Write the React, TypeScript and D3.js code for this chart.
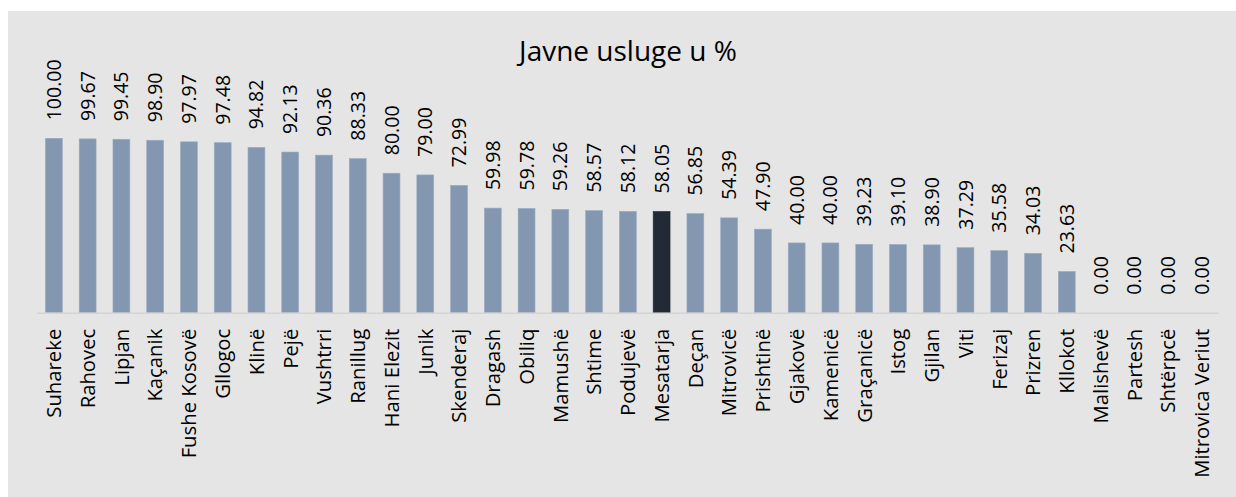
import React from "react";
import * as d3 from "d3";

const categories: string[] = [
  "Suhareke", "Rahovec", "Lipjan", "Kaçanik", "Fushe Kosovë", "Gllogoc", "Klinë", "Pejë",
  "Vushtrri", "Ranillug", "Hani Elezit", "Junik", "Skenderaj", "Dragash", "Obiliq", "Mamushë",
  "Shtime", "Podujevë", "Mesatarja", "Deçan", "Mitrovicë", "Prishtinë", "Gjakovë", "Kamenicë",
  "Graçanicë", "Istog", "Gjilan", "Viti", "Ferizaj", "Prizren", "Kllokot", "Malishevë",
  "Partesh", "Shtërpcë", "Mitrovica Veriut",
];

const values: number[] = [
  100.0, 99.67, 99.45, 98.9, 97.97, 97.48, 94.82, 92.13,
  90.36, 88.33, 80.0, 79.0, 72.99, 59.98, 59.78, 59.26,
  58.57, 58.12, 58.05, 56.85, 54.39, 47.9, 40.0, 40.0,
  39.23, 39.1, 38.9, 37.29, 35.58, 34.03, 23.63, 0.0,
  0.0, 0.0, 0.0,
];

const highlighted: string[] = ["Mesatarja"];
const title = "Javne usluge u %";

const W = 1236;
const H = 497;
const FONT = "'Open Sans', 'Noto Sans', sans-serif";

export default function App() {
  const x = d3
    .scaleBand<string>()
    .domain(categories)
    .range([37, 1218.7])
    .paddingInner(0.5)
    .paddingOuter(0.25);
  const y = d3.scaleLinear().domain([0, 100]).range([312.7, 138.3]);

  return (
    <svg
      width={W}
      height={H}
      style={{ position: "absolute", left: 0, top: 0, display: "block" }}
      fontFamily={FONT}
    >
      <rect x={0} y={0} width={W} height={H} fill="#ffffff" />
      <rect x={8} y={11} width={W - 8} height={H - 11} fill="#e5e5e5" />
      <text x={628} y={61} textAnchor="middle" fontSize={28} fill="#000">
        {title}
      </text>
      {categories.map((c, i) => {
        const v = values[i];
        const bx = x(c)!;
        const bw = x.bandwidth();
        const hl = highlighted.includes(c);
        return (
          <g key={c}>
            {v > 0 && (
              <rect
                x={bx}
                y={y(v)}
                width={bw}
                height={y(0) - y(v)}
                fill={hl ? "#222a35" : "#8497b0"}
                stroke={hl ? "#222a35" : "#9aabc2"}
                strokeWidth={0.6}
              />
            )}
          </g>
        );
      })}
      <line x1={37} x2={1218.7} y1={y(0) + 0.5} y2={y(0) + 0.5} stroke="#d4d4d4" strokeWidth={1.5} />
      {categories.map((c, i) => {
        const v = values[i];
        const cx = x(c)! + x.bandwidth() / 2;
        const ly = y(v) - 18;
        return (
          <text
            key={"v" + c}
            transform={`translate(${cx},${ly}) rotate(-90)`}
            dy="0.36em"
            textAnchor="start"
            fontSize={19.5}
            fill="#000"
          >
            {v.toFixed(2)}
          </text>
        );
      })}
      {categories.map((c) => {
        const cx = x(c)! + x.bandwidth() / 2;
        return (
          <text
            key={"t" + c}
            transform={`translate(${cx},${y(0) + 16}) rotate(-90)`}
            dy="0.36em"
            textAnchor="end"
            fontSize={20.3}
            fill="#000"
          >
            {c}
          </text>
        );
      })}
    </svg>
  );
}
